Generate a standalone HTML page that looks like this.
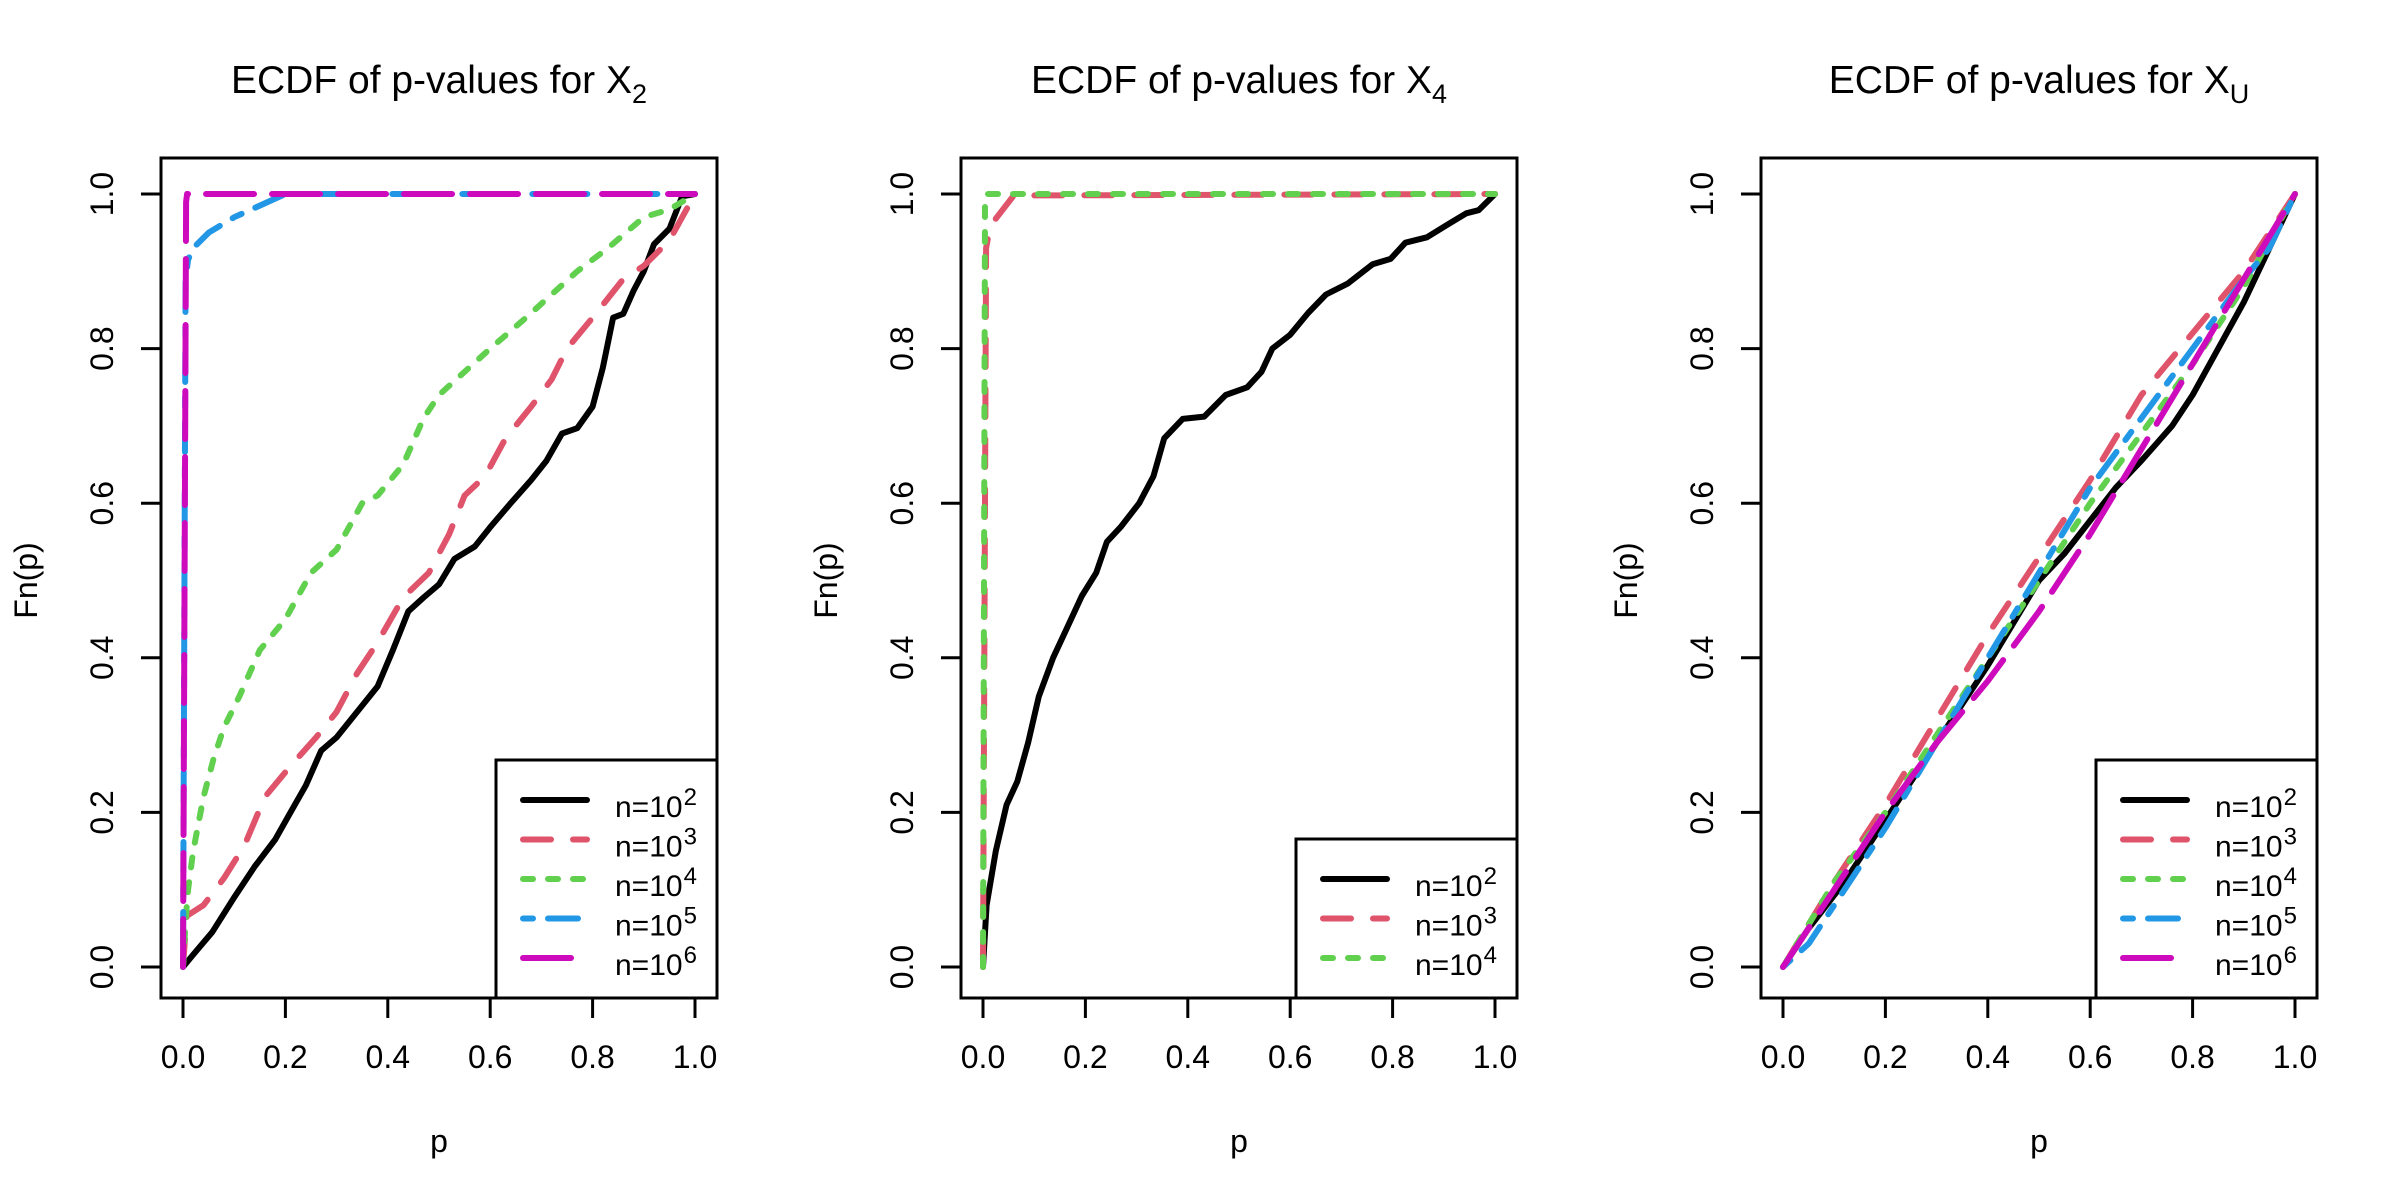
<!DOCTYPE html>
<html><head><meta charset="utf-8"><style>
html,body{margin:0;padding:0;background:#fff;}
svg{display:block;font-family:"Liberation Sans",Arial,sans-serif;}
</style></head><body>
<svg id="chart" width="2400" height="1200" viewBox="0 0 2400 1200" xmlns="http://www.w3.org/2000/svg"></svg>
<script>
// ---- data ----
const tickValues = [0, 0.2, 0.4, 0.6, 0.8, 1.0];
const tickLabels = ["0.0", "0.2", "0.4", "0.6", "0.8", "1.0"];
const seriesLabels = ["2", "3", "4", "5", "6"];
const panelTitles = ["2", "4", "U"];

// Panel 1 (X2)
const p1_n2_x = [0,.02,.057,.1,.14,.18,.21,.24,.27,.3,.34,.38,.41,.44,.47,.5,.53,.57,.6,.64,.68,.71,.74,.77,.8,.82,.84,.86,.88,.9,.92,.95,.975,1];
const p1_n2_y = [0,.016,.045,.09,.13,.165,.2,.235,.28,.297,.33,.363,.41,.46,.478,.495,.528,.544,.569,.6,.63,.655,.69,.697,.725,.775,.84,.845,.875,.9,.935,.955,.997,1];
const p1_n3_x = [0,.007,.04,.08,.12,.16,.21,.26,.3,.34,.38,.43,.48,.52,.55,.59,.63,.68,.72,.75,.8,.86,.9,.95,1];
const p1_n3_y = [0,.066,.08,.115,.157,.22,.26,.297,.33,.38,.42,.478,.51,.56,.61,.635,.684,.725,.76,.8,.84,.89,.907,.94,1];
const p1_n4_x = [0,.005,.01,.02,.04,.06,.08,.11,.15,.2,.25,.3,.35,.38,.43,.47,.5,.55,.6,.67,.72,.77,.83,.9,.95,1];
const p1_n4_y = [0,.06,.1,.15,.22,.27,.31,.35,.41,.45,.51,.54,.6,.61,.65,.71,.74,.77,.8,.84,.87,.9,.93,.97,.98,1];
const p1_n5_x = [0,.005,.01,.02,.05,.1,.15,.2,1];
const p1_n5_y = [0,.89,.915,.93,.95,.97,.985,1,1];
const p1_n6_x = [0,.006,.008,1];
const p1_n6_y = [0,.99,1,1];

// Panel 2 (X4)
const p2_n2_x = [0,.007,.025,.046,.067,.088,.109,.137,.165,.193,.221,.242,.27,.305,.333,.354,.39,.432,.474,.516,.544,.565,.6,.635,.67,.712,.761,.796,.825,.867,.909,.944,.968,1];
const p2_n2_y = [0,.08,.15,.21,.24,.29,.35,.4,.44,.48,.51,.55,.57,.6,.635,.684,.709,.712,.74,.75,.77,.8,.818,.846,.87,.884,.909,.916,.937,.944,.961,.975,.979,1];
const p2_n3_x = [0,.006,.01,.025,.06,1];
const p2_n3_y = [0,.93,.944,.968,.998,1];
const p2_n4_x = [0,.004,.006,1];
const p2_n4_y = [0,.99,1,1];

// Panel 3 (XU)
const p3_n2_x = [0,.05,.12,.2,.3,.4,.5,.55,.65,.7,.76,.8,.85,.9,.95,1];
const p3_n2_y = [0,.05,.11,.19,.29,.39,.5,.535,.62,.655,.7,.74,.8,.86,.93,1];
const p3_n3_x = [0,.1,.2,.3,.4,.5,.6,.7,.8,.9,1];
const p3_n3_y = [0,.11,.21,.32,.43,.53,.63,.74,.82,.9,1];
const p3_n4_x = [0,.1,.2,.3,.4,.5,.6,.7,.8,.9,1];
const p3_n4_y = [0,.11,.2,.3,.4,.5,.6,.69,.78,.88,1];
const p3_n5_x = [0,.05,.1,.2,.3,.4,.5,.6,.7,.8,.9,.95,1];
const p3_n5_y = [0,.03,.08,.18,.29,.4,.51,.62,.71,.8,.89,.93,1];
const p3_n6_x = [0,.1,.2,.3,.4,.5,.6,.7,.8,.9,1];
const p3_n6_y = [0,.1,.2,.29,.37,.46,.56,.67,.78,.89,1];

// ---- styles ----
const colors = ["#000000", "#DF536B", "#61D04F", "#2297E6", "#CD0BBC"];
const dashes = ["", "28 22", "10 15", "10 15 30 15", "48 18"];

const panels = [
  {series: [[p1_n2_x,p1_n2_y],[p1_n3_x,p1_n3_y],[p1_n4_x,p1_n4_y],[p1_n5_x,p1_n5_y],[p1_n6_x,p1_n6_y]], legendTop: 760},
  {series: [[p2_n2_x,p2_n2_y],[p2_n3_x,p2_n3_y],[p2_n4_x,p2_n4_y]], legendTop: 839},
  {series: [[p3_n2_x,p3_n2_y],[p3_n3_x,p3_n3_y],[p3_n4_x,p3_n4_y],[p3_n5_x,p3_n5_y],[p3_n6_x,p3_n6_y]], legendTop: 760}
];

const NS = "http://www.w3.org/2000/svg";
const svg = document.getElementById("chart");
function mk(tag, attrs, parent) {
  const e = document.createElementNS(NS, tag);
  for (const k in attrs) e.setAttribute(k, attrs[k]);
  (parent || svg).appendChild(e);
  return e;
}

panels.forEach((pan, k) => {
  const off = 800 * k;
  const boxL = 161 + off, boxT = 158, boxW = 556, boxH = 840;
  const sx = v => 183 + off + v * 512;
  const sy = v => 967 - v * 773;
  const g = mk("g", {});
  
  

  const t = mk("text", {x: boxL + boxW / 2, y: 93, "text-anchor": "middle", "font-size": 39, fill: "#000"}, g);
  
  
  t.textContent = "ECDF of p-values for X";
  const ts = mk("tspan", {"font-size": 27, dy: 10}, t);
  ts.textContent = panelTitles[k];

  pan.series.forEach((s, i) => {
    const pts = s[0].map((xv, j) => sx(xv).toFixed(1) + "," + sy(s[1][j]).toFixed(1)).join(" ");
    const pl = mk("polyline", {points: pts, fill: "none", stroke: colors[i], "stroke-width": 6,
      "stroke-dasharray": dashes[i], "stroke-linejoin": "round", "stroke-linecap": "round"}, g);
    
    
  });

  const box = mk("rect", {x: boxL, y: boxT, width: boxW, height: boxH, fill: "none", stroke: "#000", "stroke-width": 3}, g);
  
  

  const xa = mk("g", {}, g);
  
  
  mk("line", {x1: sx(0), x2: sx(1), y1: boxT + boxH, y2: boxT + boxH, stroke: "#000", "stroke-width": 3}, xa);
  tickValues.forEach((v, j) => {
    mk("line", {x1: sx(v), x2: sx(v), y1: boxT + boxH, y2: boxT + boxH + 20, stroke: "#000", "stroke-width": 3}, xa);
    const tl = mk("text", {x: sx(v), y: 1068, "text-anchor": "middle", "font-size": 32}, xa);
    
    
    tl.textContent = tickLabels[j];
  });
  const xt = mk("text", {x: sx(0.5), y: 1152, "text-anchor": "middle", "font-size": 32}, g);
  
  
  xt.textContent = "p";

  const ya = mk("g", {}, g);
  
  
  mk("line", {x1: boxL, x2: boxL, y1: sy(0), y2: sy(1), stroke: "#000", "stroke-width": 3}, ya);
  tickValues.forEach((v, j) => {
    mk("line", {x1: boxL, x2: boxL - 20, y1: sy(v), y2: sy(v), stroke: "#000", "stroke-width": 3}, ya);
    const tx = 113 + off;
    const tl = mk("text", {x: tx, y: sy(v), "text-anchor": "middle", "font-size": 32, transform: "rotate(-90 " + tx + " " + sy(v) + ")"}, ya);
    
    
    tl.textContent = tickLabels[j];
  });
  const yx = 37 + off, yy = sy(0.5);
  const yt = mk("text", {x: yx, y: yy, "text-anchor": "middle", "font-size": 32, transform: "rotate(-90 " + yx + " " + yy + ")"}, g);
  
  
  yt.textContent = "Fn(p)";

  const lg = mk("g", {}, g);
  
  
  const lt = pan.legendTop, ll = 496 + off;
  mk("rect", {x: ll, y: lt, width: 717 + off - ll, height: 998 - lt, fill: "#fff", stroke: "#000", "stroke-width": 3}, lg);
  pan.series.forEach((s, i) => {
    const ry = lt + 40 + i * 39.5;
    const e = mk("g", {}, lg);
    
    
    mk("line", {x1: ll + 27, x2: ll + 91, y1: ry, y2: ry, stroke: colors[i], "stroke-width": 6,
      "stroke-dasharray": dashes[i], "stroke-linecap": "round"}, e);
    const tx = mk("text", {x: ll + 119, y: ry + 17, "font-size": 30}, e);
    tx.textContent = "n=10";
    const sup = mk("tspan", {"font-size": 24, dy: -12, dx: 1}, tx);
    sup.textContent = seriesLabels[i];
  });
});
</script>
</body></html>
